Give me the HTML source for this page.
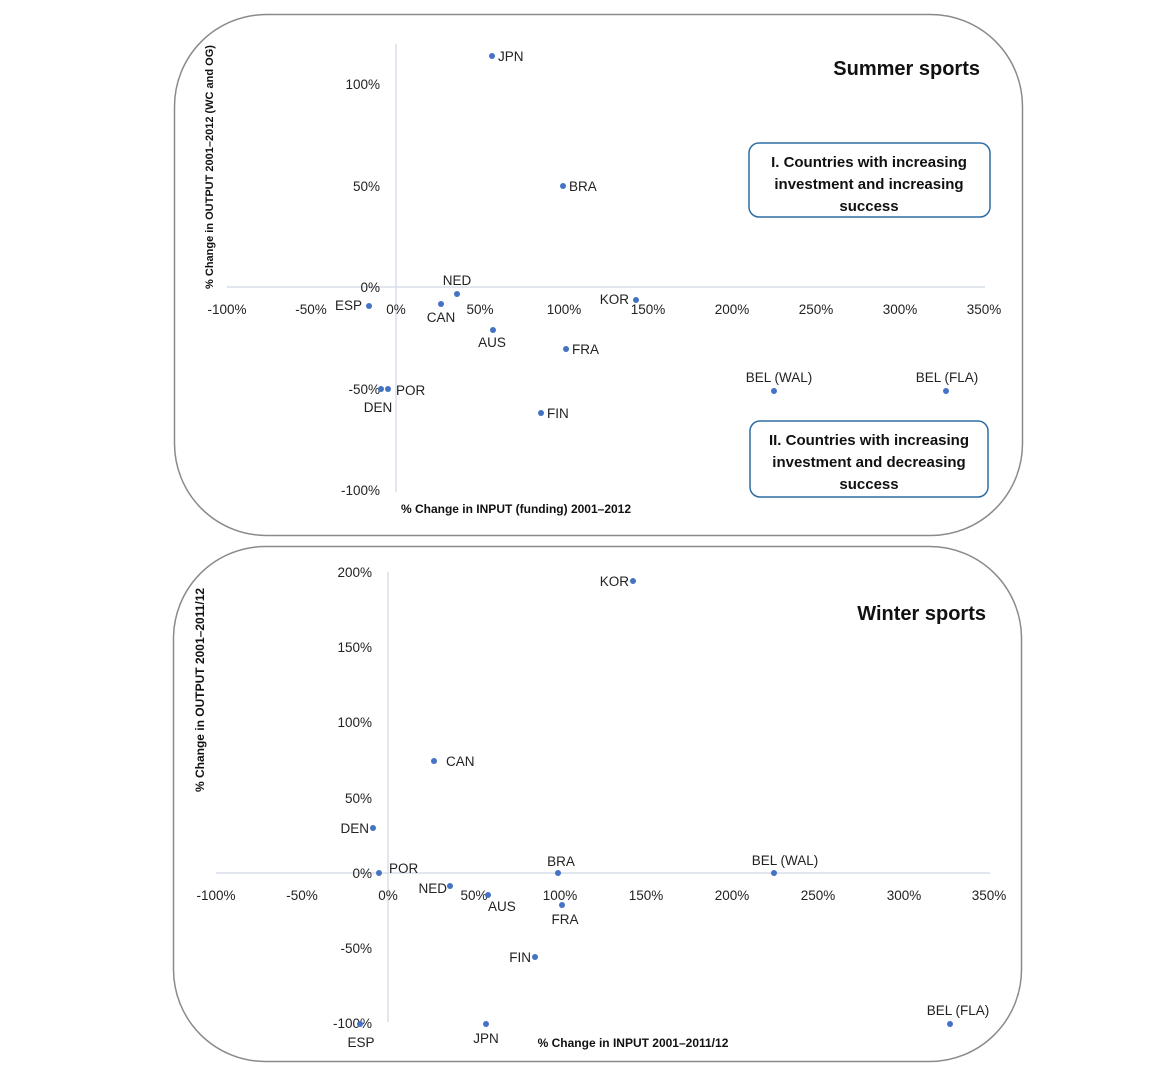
<!DOCTYPE html>
<html><head><meta charset="utf-8"><style>
html,body{margin:0;padding:0;background:#fff;}
svg{display:block;font-family:"Liberation Sans",sans-serif;}
.t{font-size:13.5px;fill:#222;}
.b{font-weight:bold;fill:#111;}
</style></head><body>
<svg width="1174" height="1068" viewBox="0 0 1174 1068">
<!-- top panel -->
<rect x="174.5" y="14.5" width="848" height="521" rx="92" fill="none" stroke="#8a8a8a" stroke-width="1.5"/>
<line x1="396" y1="44" x2="396" y2="492" stroke="#d9dee8" stroke-width="1.5"/>
<line x1="227" y1="287" x2="985" y2="287" stroke="#d9dee8" stroke-width="1.5"/>
<g class="t" text-anchor="middle">
<text x="227" y="314">-100%</text><text x="311" y="314">-50%</text><text x="396" y="314">0%</text>
<text x="480" y="314">50%</text><text x="564" y="314">100%</text><text x="648" y="314">150%</text>
<text x="732" y="314">200%</text><text x="816" y="314">250%</text><text x="900" y="314">300%</text><text x="984" y="314">350%</text>
</g>
<g class="t" text-anchor="end">
<text x="380" y="89">100%</text><text x="380" y="191">50%</text><text x="380" y="292">0%</text>
<text x="380" y="394">-50%</text><text x="380" y="495">-100%</text>
</g>
<text class="b" font-size="11" transform="translate(213,167) rotate(-90)" text-anchor="middle">% Change in OUTPUT 2001–2012 (WC and OG)</text>
<text class="b" font-size="12" x="516" y="513" text-anchor="middle">% Change in INPUT (funding) 2001–2012</text>
<text class="b" font-size="20" x="980" y="75" text-anchor="end">Summer sports</text>
<rect x="749" y="143" width="241" height="74" rx="10" fill="#fff" stroke="#2e6da4" stroke-width="1.5"/>
<g class="b" font-size="15" text-anchor="middle">
<text x="869" y="167">I. Countries with increasing</text><text x="869" y="189">investment and increasing</text><text x="869" y="211">success</text>
</g>
<rect x="750" y="421" width="238" height="76" rx="10" fill="#fff" stroke="#2e6da4" stroke-width="1.5"/>
<g class="b" font-size="15" text-anchor="middle">
<text x="869" y="445">II. Countries with increasing</text><text x="869" y="467">investment and decreasing</text><text x="869" y="489">success</text>
</g>
<g fill="#4472c4">
<circle cx="492" cy="56" r="3"/><circle cx="563" cy="186" r="3"/><circle cx="457" cy="294" r="3"/>
<circle cx="441" cy="304" r="3"/><circle cx="369" cy="306" r="3"/><circle cx="636" cy="300" r="3"/>
<circle cx="493" cy="330" r="3"/><circle cx="566" cy="349" r="3"/><circle cx="381" cy="389" r="3"/>
<circle cx="388" cy="389" r="3"/><circle cx="541" cy="413" r="3"/><circle cx="774" cy="391" r="3"/><circle cx="946" cy="391" r="3"/>
</g>
<g class="t">
<text x="498" y="61">JPN</text><text x="569" y="191">BRA</text>
<text x="457" y="285" text-anchor="middle">NED</text><text x="441" y="322" text-anchor="middle">CAN</text>
<text x="362" y="310" text-anchor="end">ESP</text><text x="629" y="304" text-anchor="end">KOR</text>
<text x="492" y="347" text-anchor="middle">AUS</text><text x="572" y="354">FRA</text>
<text x="396" y="395">POR</text><text x="378" y="412" text-anchor="middle">DEN</text>
<text x="547" y="418">FIN</text>
<text x="779" y="382" text-anchor="middle">BEL (WAL)</text><text x="947" y="382" text-anchor="middle">BEL (FLA)</text>
</g>
<!-- bottom panel -->
<rect x="173.5" y="546.5" width="848" height="515" rx="92" fill="none" stroke="#8a8a8a" stroke-width="1.5"/>
<line x1="388" y1="572" x2="388" y2="1022" stroke="#d9dee8" stroke-width="1.5"/>
<line x1="216" y1="873" x2="990" y2="873" stroke="#d9dee8" stroke-width="1.5"/>
<g class="t" text-anchor="middle">
<text x="216" y="900">-100%</text><text x="302" y="900">-50%</text><text x="388" y="900">0%</text>
<text x="474" y="900">50%</text><text x="560" y="900">100%</text><text x="646" y="900">150%</text>
<text x="732" y="900">200%</text><text x="818" y="900">250%</text><text x="904" y="900">300%</text><text x="989" y="900">350%</text>
</g>
<g class="t" text-anchor="end">
<text x="372" y="577">200%</text><text x="372" y="652">150%</text><text x="372" y="727">100%</text>
<text x="372" y="803">50%</text><text x="372" y="878">0%</text><text x="372" y="953">-50%</text><text x="372" y="1028">-100%</text>
</g>
<text class="b" font-size="12" transform="translate(204,690) rotate(-90)" text-anchor="middle">% Change in OUTPUT 2001–2011/12</text>
<text class="b" font-size="12" x="633" y="1047" text-anchor="middle">% Change in INPUT 2001–2011/12</text>
<text class="b" font-size="20" x="986" y="620" text-anchor="end">Winter sports</text>
<g fill="#4472c4">
<circle cx="633" cy="581" r="3"/><circle cx="434" cy="761" r="3"/><circle cx="373" cy="828" r="3"/>
<circle cx="379" cy="873" r="3"/><circle cx="558" cy="873" r="3"/><circle cx="774" cy="873" r="3"/>
<circle cx="450" cy="886" r="3"/><circle cx="488" cy="895" r="3"/><circle cx="562" cy="905" r="3"/>
<circle cx="535" cy="957" r="3"/><circle cx="360" cy="1024" r="3"/><circle cx="486" cy="1024" r="3"/><circle cx="950" cy="1024" r="3"/>
</g>
<g class="t">
<text x="629" y="586" text-anchor="end">KOR</text><text x="446" y="766">CAN</text>
<text x="369" y="833" text-anchor="end">DEN</text><text x="389" y="873">POR</text>
<text x="561" y="866" text-anchor="middle">BRA</text><text x="785" y="865" text-anchor="middle">BEL (WAL)</text>
<text x="447" y="893" text-anchor="end">NED</text><text x="488" y="911">AUS</text>
<text x="565" y="924" text-anchor="middle">FRA</text><text x="531" y="962" text-anchor="end">FIN</text>
<text x="361" y="1047" text-anchor="middle">ESP</text><text x="486" y="1043" text-anchor="middle">JPN</text>
<text x="958" y="1015" text-anchor="middle">BEL (FLA)</text>
</g>
</svg>
</body></html>
